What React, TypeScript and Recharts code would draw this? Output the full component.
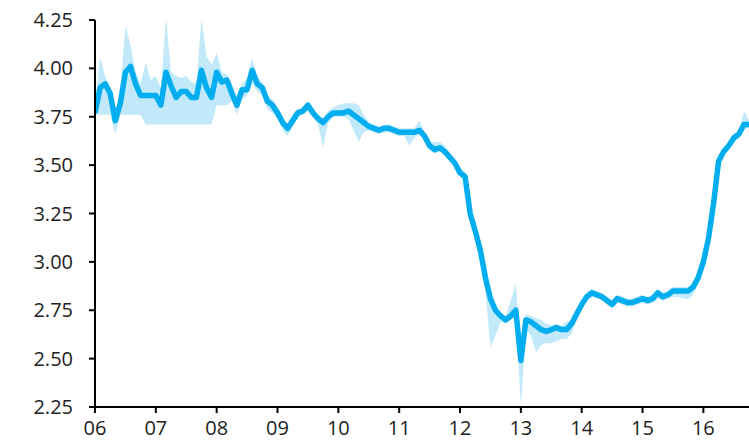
import { ComposedChart, Area, Line, XAxis, YAxis } from "recharts";

// monthly, Jan 2006 .. Oct 2016
const START_YEAR = 2006;

const mid = [
  3.77, 3.90, 3.92, 3.87, 3.73, 3.82, 3.98, 4.01, 3.92, 3.86, 3.86, 3.86,
  3.86, 3.81, 3.98, 3.91, 3.85, 3.88, 3.88, 3.85, 3.85, 3.99, 3.90, 3.85,
  3.98, 3.93, 3.94, 3.87, 3.81, 3.89, 3.89, 3.99, 3.92, 3.90, 3.83, 3.81,
  3.77, 3.72, 3.69, 3.73, 3.77, 3.78, 3.81, 3.77, 3.74, 3.72, 3.75, 3.77,
  3.77, 3.77, 3.78, 3.76, 3.74, 3.72, 3.70, 3.69, 3.68, 3.69, 3.69, 3.68,
  3.67, 3.67, 3.67, 3.67, 3.68, 3.65, 3.60, 3.58, 3.59, 3.57, 3.54, 3.51,
  3.46, 3.44, 3.25, 3.16, 3.06, 2.92, 2.81, 2.75, 2.72, 2.70, 2.72, 2.75,
  2.49, 2.70, 2.69, 2.67, 2.65, 2.64, 2.65, 2.66, 2.65, 2.65, 2.68, 2.73,
  2.78, 2.82, 2.84, 2.83, 2.82, 2.80, 2.78, 2.81, 2.80, 2.79, 2.79, 2.80,
  2.81, 2.80, 2.81, 2.84, 2.82, 2.83, 2.85, 2.85, 2.85, 2.85, 2.87, 2.92,
  3.00, 3.12, 3.30, 3.52, 3.57, 3.60, 3.64, 3.66, 3.71, 3.71,
];

const low = [
  3.76, 3.76, 3.76, 3.76, 3.66, 3.76, 3.76, 3.76, 3.76, 3.76, 3.71, 3.71,
  3.71, 3.71, 3.71, 3.71, 3.71, 3.71, 3.71, 3.71, 3.71, 3.71, 3.71, 3.71,
  3.81, 3.81, 3.81, 3.83, 3.76, 3.84, 3.86, 3.92, 3.88, 3.86, 3.79, 3.77,
  3.74, 3.68, 3.65, 3.70, 3.75, 3.76, 3.78, 3.75, 3.71, 3.59, 3.72, 3.75,
  3.75, 3.75, 3.74, 3.68, 3.62, 3.67, 3.68, 3.67, 3.66, 3.67, 3.67, 3.66,
  3.65, 3.65, 3.60, 3.64, 3.66, 3.63, 3.58, 3.56, 3.57, 3.55, 3.52, 3.49,
  3.44, 3.42, 3.23, 3.13, 3.02, 2.85, 2.56, 2.62, 2.69, 2.68, 2.70, 2.72,
  2.25, 2.65, 2.62, 2.53, 2.57, 2.58, 2.58, 2.59, 2.60, 2.60, 2.63, 2.70,
  2.76, 2.80, 2.82, 2.81, 2.80, 2.78, 2.76, 2.79, 2.78, 2.77, 2.77, 2.78,
  2.79, 2.78, 2.79, 2.81, 2.80, 2.81, 2.82, 2.82, 2.81, 2.81, 2.83, 2.89,
  2.97, 3.09, 3.27, 3.49, 3.55, 3.58, 3.62, 3.64, 3.69, 3.69,
];

const high = [
  3.80, 4.06, 3.96, 3.90, 3.76, 3.90, 4.22, 4.12, 3.98, 3.92, 4.03, 3.94,
  3.96, 3.90, 4.26, 3.98, 3.96, 3.95, 3.96, 3.93, 3.92, 4.26, 4.06, 4.02,
  4.08, 3.98, 3.97, 3.92, 3.86, 3.92, 3.95, 4.05, 3.96, 3.93, 3.86, 3.84,
  3.80, 3.75, 3.71, 3.76, 3.79, 3.80, 3.83, 3.79, 3.76, 3.74, 3.78, 3.80,
  3.81, 3.82, 3.82, 3.82, 3.81, 3.76, 3.72, 3.71, 3.70, 3.71, 3.71, 3.70,
  3.69, 3.69, 3.69, 3.69, 3.73, 3.67, 3.62, 3.62, 3.62, 3.60, 3.56, 3.53,
  3.48, 3.47, 3.28, 3.20, 3.10, 2.96, 2.84, 2.77, 2.74, 2.72, 2.80, 2.89,
  2.55, 2.73, 2.72, 2.71, 2.70, 2.68, 2.67, 2.68, 2.67, 2.69, 2.70, 2.75,
  2.80, 2.84, 2.86, 2.85, 2.84, 2.82, 2.80, 2.83, 2.82, 2.81, 2.81, 2.82,
  2.83, 2.82, 2.83, 2.86, 2.84, 2.85, 2.87, 2.87, 2.87, 2.87, 2.89, 2.94,
  3.02, 3.15, 3.33, 3.55, 3.59, 3.62, 3.66, 3.68, 3.78, 3.73,
];

const yearTicks = [2006, 2007, 2008, 2009, 2010, 2011, 2012, 2013, 2014, 2015, 2016];
const valueTicks = [2.25, 2.5, 2.75, 3.0, 3.25, 3.5, 3.75, 4.0, 4.25];

const data = mid.map((v, i) => ({
  t: START_YEAR + i / 12,
  v,
  band: [low[i], high[i]],
}));

const LINE = "#00aeef";
const BAND = "#c2e9fa";
const tickStyle = { fill: "#222", fontSize: 20, fontFamily: "'Open Sans', 'Noto Sans', sans-serif" };

export default function App() {
  return (
    <div style={{ position: "absolute", left: 0, top: 0, background: "#fff" }}>
      <ComposedChart width={749} height={444} data={data}
        margin={{ top: 20, right: 0, left: 0, bottom: 0 }}>
        <XAxis dataKey="t" type="number" domain={[START_YEAR, START_YEAR + (mid.length - 1) / 12]}
          ticks={yearTicks} tickFormatter={(v: number) => String(v).slice(2)}
          height={37} tick={tickStyle} tickSize={6} tickMargin={8}
          axisLine={{ stroke: "#000", strokeWidth: 2 }} tickLine={{ stroke: "#000", strokeWidth: 2 }}
          allowDataOverflow />
        <YAxis type="number" domain={[2.25, 4.25]} ticks={valueTicks} width={95}
          tickFormatter={(v: number) => v.toFixed(2)} tick={tickStyle} tickSize={6} tickMargin={16}
          axisLine={{ stroke: "#000", strokeWidth: 2 }} tickLine={{ stroke: "#000", strokeWidth: 2 }}
          allowDataOverflow />
        <Area dataKey="band" type="linear" stroke="none" fill={BAND} fillOpacity={1}
          isAnimationActive={false} />
        <Line dataKey="v" type="linear" stroke={LINE} strokeWidth={5.5} dot={false}
          strokeLinejoin="round" isAnimationActive={false} />
      </ComposedChart>
    </div>
  );
}
